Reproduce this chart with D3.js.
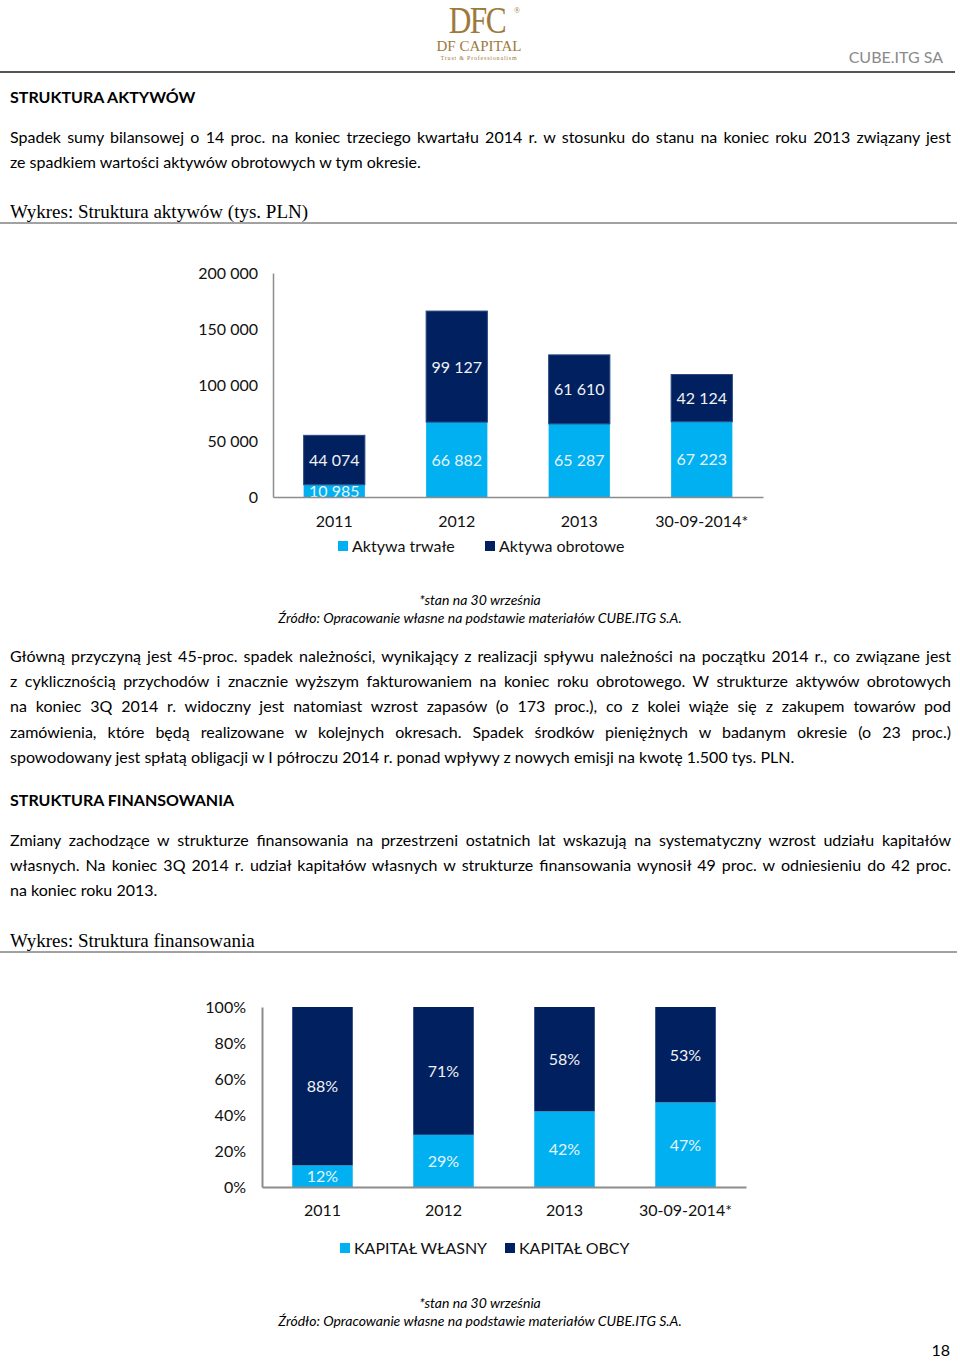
<!DOCTYPE html>
<html><head><meta charset="utf-8">
<script src="https://cdn.jsdelivr.net/npm/d3@7"></script>
<style>body{margin:0;background:#fff}svg{display:block}</style>
</head><body>
<svg id="page" width="960" height="1361"></svg>
<script>
// ---------- DATA ----------
const categories = ["2011", "2012", "2013", "30-09-2014*"];
const fixedAssets = [10985, 66882, 65287, 67223];      // Aktywa trwałe
const currentAssets = [44074, 99127, 61610, 42124];    // Aktywa obrotowe
const assetTicks = [0, 50000, 100000, 150000, 200000];
const equityShare = [12, 29, 42, 47];                  // KAPITAŁ WŁASNY %
const debtShare = [88, 71, 58, 53];                    // KAPITAŁ OBCY %
const shareTicks = [0, 20, 40, 60, 80, 100];
const assetSeries = ["Aktywa trwałe", "Aktywa obrotowe"];
const finSeries = ["KAPITAŁ WŁASNY", "KAPITAŁ OBCY"];

const para1 = [
 "Spadek sumy bilansowej o 14 proc. na koniec trzeciego kwartału 2014 r. w stosunku do stanu na koniec roku 2013 związany jest",
 "ze spadkiem wartości aktywów obrotowych w tym okresie."];
const para2 = [
 "Główną przyczyną jest 45-proc. spadek należności, wynikający z realizacji spływu należności na początku 2014 r., co związane jest",
 "z cyklicznością przychodów i znacznie wyższym fakturowaniem na koniec roku obrotowego. W strukturze aktywów obrotowych",
 "na koniec 3Q 2014 r. widoczny jest natomiast wzrost zapasów (o 173 proc.), co z kolei wiąże się z zakupem towarów pod",
 "zamówienia, które będą realizowane w kolejnych okresach. Spadek środków pieniężnych w badanym okresie (o 23 proc.)",
 "spowodowany jest spłatą obligacji w I półroczu 2014 r. ponad wpływy z nowych emisji na kwotę 1.500 tys. PLN."];
const para3 = [
 "Zmiany zachodzące w strukturze finansowania na przestrzeni ostatnich lat wskazują na systematyczny wzrost udziału kapitałów",
 "własnych. Na koniec 3Q 2014 r. udział kapitałów własnych w strukturze finansowania wynosił 49 proc. w odniesieniu do 42 proc.",
 "na koniec roku 2013."];

// ---------- STYLE ----------
const LIGHT = "#00b0f0", DARK = "#002060";
const FONT = "Lato, 'Open Sans', sans-serif";
const SERIF = "'Liberation Serif', 'DejaVu Serif', serif";
const loc = d3.formatLocale({decimal: ",", thousands: " ", grouping: [3], currency: ["", " zł"]});
const fmt = loc.format(",d");

const svg = d3.select("#page");
svg.append("rect").attr("width", 960).attr("height", 1361).attr("fill", "#fff");

// ---------- HEADER ----------
const gold = "#9c7a3c";
svg.append("text").attr("transform", "translate(477,33) scale(0.95,1.15)").attr("text-anchor", "middle")
  .attr("font-family", SERIF).attr("font-size", 33).attr("fill", gold)
  .attr("letter-spacing", -1.5).text("DFC");
svg.append("text").attr("x", 514).attr("y", 13).attr("font-family", SERIF)
  .attr("font-size", 8).attr("fill", gold).text("®");
svg.append("text").attr("x", 479).attr("y", 51).attr("text-anchor", "middle")
  .attr("font-family", SERIF).attr("font-size", 15).attr("fill", gold).text("DF CAPITAL");
svg.append("text").attr("x", 479).attr("y", 60).attr("text-anchor", "middle")
  .attr("font-family", SERIF).attr("font-size", 6).attr("letter-spacing", 0.8).attr("fill", gold)
  .text("Trust & Professionalism");
svg.append("text").attr("x", 943).attr("y", 63).attr("text-anchor", "end")
  .attr("font-family", FONT).attr("font-size", 16).attr("fill", "#8a8a8a").text("CUBE.ITG SA");
svg.append("line").attr("x1", 0).attr("x2", 955).attr("y1", 72).attr("y2", 72)
  .attr("stroke", "#555").attr("stroke-width", 2);

// ---------- TEXT HELPERS ----------
function heading(txt, y) {
  svg.append("text").attr("x", 10).attr("y", y).attr("font-family", FONT)
    .attr("font-size", 16).attr("font-weight", "bold").attr("fill", "#000").text(txt);
}
function paragraph(lines, y0, lh) {
  lines.forEach((l, i) => {
    const t = svg.append("text").attr("x", 10).attr("y", y0 + i * lh)
      .attr("font-family", FONT).attr("font-size", 16).attr("fill", "#000").text(l);
    if (i < lines.length - 1) {
      const w = t.node().getComputedTextLength();
      const n = (l.match(/ /g) || []).length;
      if (n > 0) t.attr("word-spacing", (941 - w) / n);
    }
  });
}
function chartTitle(txt, y) {
  svg.append("text").attr("x", 10).attr("y", y).attr("font-family", SERIF)
    .attr("font-size", 19).attr("fill", "#000").text(txt);
  svg.append("line").attr("x1", 0).attr("x2", 957).attr("y1", y + 5).attr("y2", y + 5)
    .attr("stroke", "#444").attr("stroke-width", 1);
}
function footnote(y) {
  svg.append("text").attr("x", 480).attr("y", y).attr("text-anchor", "middle")
    .attr("font-family", FONT).attr("font-style", "italic").attr("font-size", 14)
    .attr("fill", "#000").text("*stan na 30 września");
  svg.append("text").attr("x", 480).attr("y", y + 18).attr("text-anchor", "middle")
    .attr("font-family", FONT).attr("font-style", "italic").attr("font-size", 14)
    .attr("fill", "#000").text("Źródło: Opracowanie własne na podstawie materiałów CUBE.ITG S.A.");
}

heading("STRUKTURA AKTYWÓW", 103);
paragraph(para1, 143, 25);
chartTitle("Wykres: Struktura aktywów (tys. PLN)", 218);

// ---------- CHART 1 ----------
{
  const x0 = 273, x1 = 763, yb = 497, yt = 273;
  const x = d3.scaleBand().domain(categories).range([x0, x1]).paddingInner(0.5).paddingOuter(0.25);
  const y = d3.scaleLinear().domain([0, 200000]).range([yb, yt]);
  const g = svg.append("g");
  const stacked = d3.stack().keys([0, 1]).value((d, k) => d[k])(categories.map((c, i) => [fixedAssets[i], currentAssets[i]]));
  const cols = [LIGHT, DARK];
  stacked.forEach((s, k) => {
    g.selectAll(null).data(s).join("rect")
      .attr("x", (d, i) => x(categories[i])).attr("width", x.bandwidth())
      .attr("y", d => y(d[1])).attr("height", d => y(d[0]) - y(d[1]))
      .attr("fill", cols[k])
      .attr("stroke", k === 1 ? "#2a4a82" : "none").attr("stroke-width", k === 1 ? 1 : 0);
  });
  stacked.forEach((s, k) => {
    g.selectAll(null).data(s).join("text")
      .attr("x", (d, i) => x(categories[i]) + x.bandwidth() / 2)
      .attr("y", d => (y(d[0]) + y(d[1])) / 2 + 6)
      .attr("text-anchor", "middle").attr("font-family", FONT).attr("font-size", 16)
      .attr("fill", k === 0 ? "#e8f4fb" : "#f2f2f2")
      .text(d => fmt(d[1] - d[0]));
  });
  const ya = g.append("g").attr("transform", `translate(${x0},0)`)
    .call(d3.axisLeft(y).tickValues(assetTicks).tickSize(0).tickPadding(15).tickFormat(fmt));
  ya.select(".domain").attr("stroke", "#8c8c8c").attr("stroke-width", 1.5);
  ya.selectAll("text").attr("font-family", FONT).attr("font-size", 16).attr("fill", "#111");
  const xa = g.append("g").attr("transform", `translate(0,${yb})`)
    .call(d3.axisBottom(x).tickSize(0).tickPadding(19));
  xa.select(".domain").attr("stroke", "#8c8c8c").attr("stroke-width", 1.5);
  xa.selectAll("text").attr("font-family", FONT).attr("font-size", 16).attr("fill", "#111");
  const lx = [338, 485];
  assetSeries.forEach((s, k) => {
    g.append("rect").attr("x", lx[k]).attr("y", 541).attr("width", 10).attr("height", 10).attr("fill", cols[k]);
    g.append("text").attr("x", lx[k] + 14).attr("y", 552).attr("font-family", FONT)
      .attr("font-size", 16).attr("fill", "#111").text(s);
  });
}
footnote(605);

paragraph(para2, 662, 25.2);
heading("STRUKTURA FINANSOWANIA", 806);
paragraph(para3, 846, 25);
chartTitle("Wykres: Struktura finansowania", 947);

// ---------- CHART 2 ----------
{
  const x0 = 262, x1 = 746, yb = 1187, yt = 1007;
  const x = d3.scaleBand().domain(categories).range([x0, x1]).paddingInner(0.5).paddingOuter(0.25);
  const y = d3.scaleLinear().domain([0, 100]).range([yb, yt]);
  const g = svg.append("g");
  const stacked = d3.stack().keys([0, 1]).value((d, k) => d[k])(categories.map((c, i) => [equityShare[i], debtShare[i]]));
  const cols = [LIGHT, DARK];
  stacked.forEach((s, k) => {
    g.selectAll(null).data(s).join("rect")
      .attr("x", (d, i) => x(categories[i])).attr("width", x.bandwidth())
      .attr("y", d => y(d[1])).attr("height", d => y(d[0]) - y(d[1]))
      .attr("fill", cols[k]);
  });
  stacked.forEach((s, k) => {
    g.selectAll(null).data(s).join("text")
      .attr("x", (d, i) => x(categories[i]) + x.bandwidth() / 2)
      .attr("y", d => (y(d[0]) + y(d[1])) / 2 + 6)
      .attr("text-anchor", "middle").attr("font-family", FONT).attr("font-size", 16)
      .attr("fill", k === 0 ? "#e8f4fb" : "#f2f2f2")
      .text(d => (d[1] - d[0]) + "%");
  });
  const ya = g.append("g").attr("transform", `translate(${x0},0)`)
    .call(d3.axisLeft(y).tickValues(shareTicks).tickSize(0).tickPadding(16).tickFormat(d => d + "%"));
  ya.select(".domain").attr("stroke", "#8c8c8c").attr("stroke-width", 2);
  ya.selectAll("text").attr("font-family", FONT).attr("font-size", 16).attr("fill", "#111");
  const xa = g.append("g").attr("transform", `translate(0,${yb})`)
    .call(d3.axisBottom(x).tickSize(0).tickPadding(18));
  xa.select(".domain").attr("stroke", "#8c8c8c").attr("stroke-width", 2);
  xa.selectAll("text").attr("font-family", FONT).attr("font-size", 16).attr("fill", "#111");
  const lx = [340, 505];
  finSeries.forEach((s, k) => {
    g.append("rect").attr("x", lx[k]).attr("y", 1243).attr("width", 10).attr("height", 10).attr("fill", cols[k]);
    g.append("text").attr("x", lx[k] + 14).attr("y", 1254).attr("font-family", FONT)
      .attr("font-size", 16).attr("fill", "#111").text(s);
  });
}
footnote(1308);

svg.append("text").attr("x", 950).attr("y", 1356).attr("text-anchor", "end")
  .attr("font-family", FONT).attr("font-size", 16).attr("fill", "#000").text("18");
</script>
</body></html>
